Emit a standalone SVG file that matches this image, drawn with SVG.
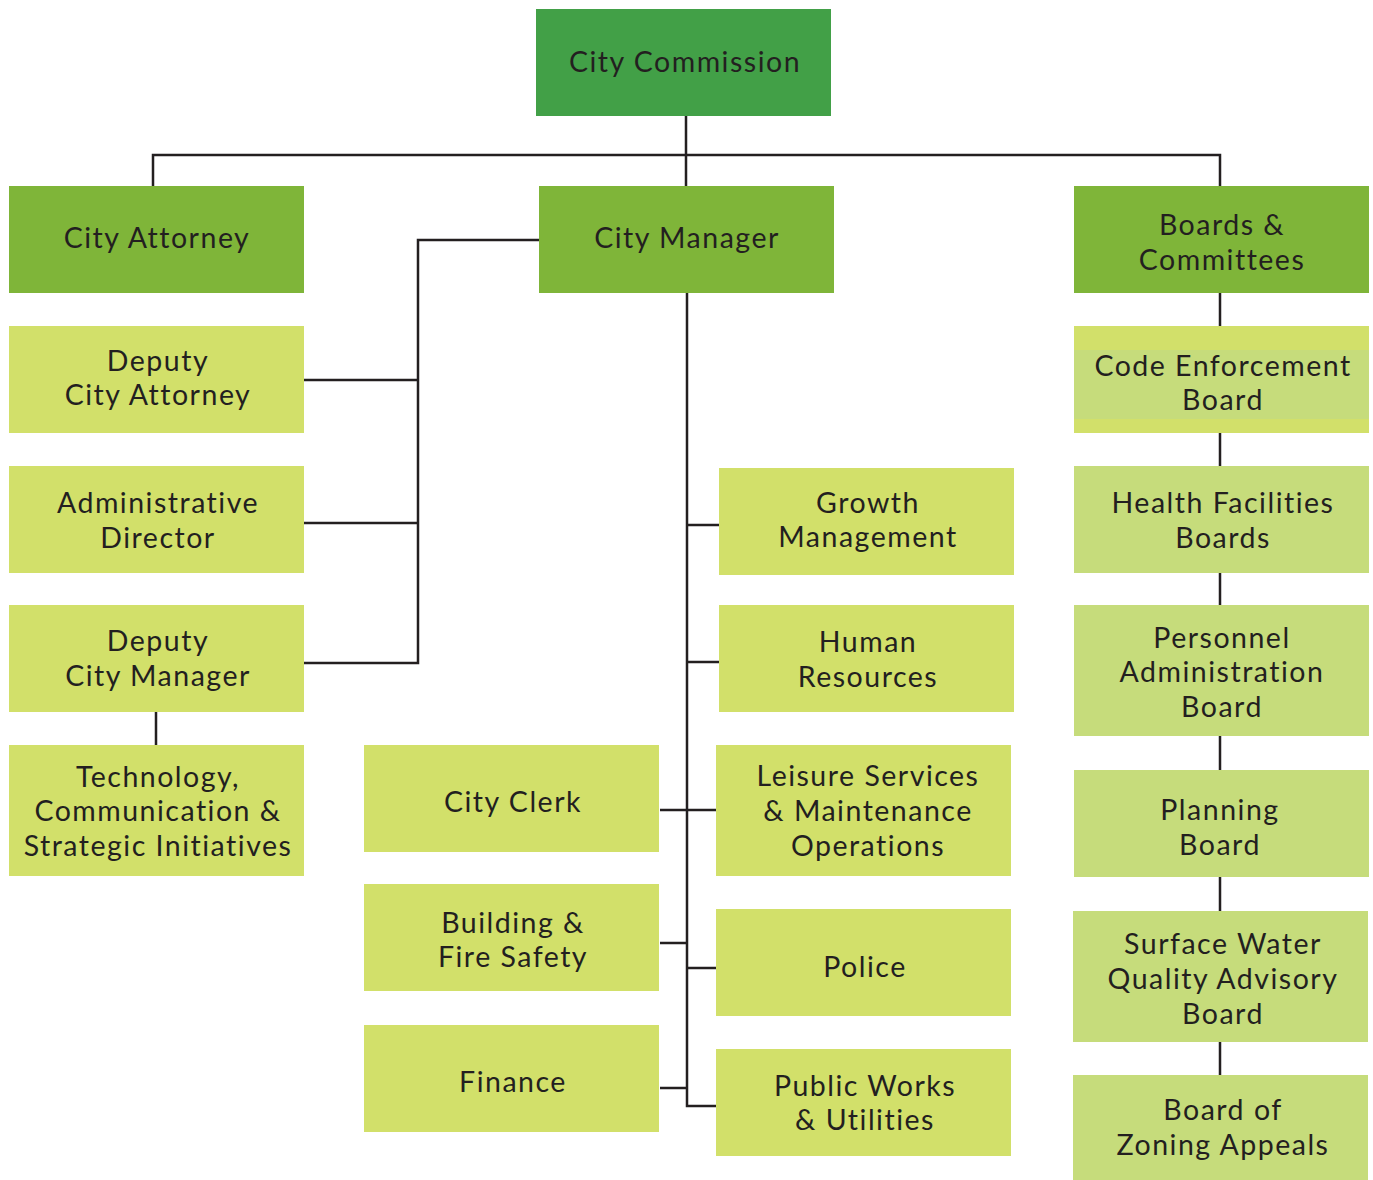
<svg xmlns="http://www.w3.org/2000/svg" width="1373" height="1180" viewBox="0 0 1373 1180">
<style>
text{font-family:"Lato","Open Sans","Liberation Sans",sans-serif;font-size:28.5px;fill:#231F20;text-anchor:middle;letter-spacing:1.5px}
.top{fill:#42A047}
.l2{fill:#7FB539}
.lt{fill:#D2E06A}
.rt{fill:#C6DC7B}
.c{fill:none;stroke:#231F20;stroke-width:2.5}
</style>
<rect width="1373" height="1180" fill="#fff"/>
<g id="connectors">
<path class="c" d="M686,116V155M153,186V155H1220V186M686,155V186"/>
<path class="c" d="M539,240H418V663H304M304,380H418M304,523H418M156,712V745"/>
<path class="c" d="M687,293V1106H716M687,525H719M687,662H719M660,810H716M660,943H687M687,968H716M660,1088H687"/>
<path class="c" d="M1220,293V1075"/>
</g>
<g id="city-commission"><rect class="top" x="536" y="9" width="295" height="107"/><text x="685" y="72">City Commission</text></g>
<g id="city-attorney"><rect class="l2" x="9" y="186" width="295" height="107"/><text x="157" y="248">City Attorney</text></g>
<g id="city-manager"><rect class="l2" x="539" y="186" width="295" height="107"/><text x="687" y="248">City Manager</text></g>
<g id="boards-committees"><rect class="l2" x="1074" y="186" width="295" height="107"/><text x="1222" y="235">Boards &amp;</text><text x="1222" y="270">Committees</text></g>
<g id="deputy-city-attorney"><rect class="lt" x="9" y="326" width="295" height="107"/><text x="158" y="371">Deputy</text><text x="158" y="405">City Attorney</text></g>
<g id="administrative-director"><rect class="lt" x="9" y="466" width="295" height="107"/><text x="158" y="513">Administrative</text><text x="158" y="548">Director</text></g>
<g id="deputy-city-manager"><rect class="lt" x="9" y="605" width="295" height="107"/><text x="158" y="651">Deputy</text><text x="158" y="686">City Manager</text></g>
<g id="technology"><rect class="lt" x="9" y="745" width="295" height="131"/><text x="158" y="787">Technology,</text><text x="158" y="821">Communication &amp;</text><text x="158" y="856">Strategic Initiatives</text></g>
<g id="growth-management"><rect class="lt" x="719" y="468" width="295" height="107"/><text x="868" y="513">Growth</text><text x="868" y="547">Management</text></g>
<g id="human-resources"><rect class="lt" x="719" y="605" width="295" height="107"/><text x="868" y="652">Human</text><text x="868" y="687">Resources</text></g>
<g id="leisure-services"><rect class="lt" x="716" y="745" width="295" height="131"/><text x="868" y="786">Leisure Services</text><text x="868" y="821">&amp; Maintenance</text><text x="868" y="856">Operations</text></g>
<g id="police"><rect class="lt" x="716" y="909" width="295" height="107"/><text x="865" y="977">Police</text></g>
<g id="public-works"><rect class="lt" x="716" y="1049" width="295" height="107"/><text x="865" y="1096">Public Works</text><text x="865" y="1130">&amp; Utilities</text></g>
<g id="city-clerk"><rect class="lt" x="364" y="745" width="295" height="107"/><text x="513" y="812">City Clerk</text></g>
<g id="building-fire-safety"><rect class="lt" x="364" y="884" width="295" height="107"/><text x="513" y="933">Building &amp;</text><text x="513" y="967">Fire Safety</text></g>
<g id="finance"><rect class="lt" x="364" y="1025" width="295" height="107"/><text x="513" y="1092">Finance</text></g>
<g id="code-enforcement-board"><rect class="lt" x="1074" y="326" width="295" height="107"/><rect class="rt" x="1074" y="350" width="295" height="69"/><text x="1223" y="376">Code Enforcement</text><text x="1223" y="410">Board</text></g>
<g id="health-facilities-boards"><rect class="rt" x="1074" y="466" width="295" height="107"/><text x="1223" y="513">Health Facilities</text><text x="1223" y="548">Boards</text></g>
<g id="personnel-administration-board"><rect class="rt" x="1074" y="605" width="295" height="131"/><text x="1222" y="648">Personnel</text><text x="1222" y="682">Administration</text><text x="1222" y="717">Board</text></g>
<g id="planning-board"><rect class="rt" x="1074" y="770" width="295" height="107"/><text x="1220" y="820">Planning</text><text x="1220" y="855">Board</text></g>
<g id="surface-water-board"><rect class="rt" x="1073" y="911" width="295" height="131"/><text x="1223" y="954">Surface Water</text><text x="1223" y="989">Quality Advisory</text><text x="1223" y="1024">Board</text></g>
<g id="board-of-zoning-appeals"><rect class="rt" x="1073" y="1075" width="295" height="105"/><text x="1223" y="1120">Board of</text><text x="1223" y="1155">Zoning Appeals</text></g>
</svg>
